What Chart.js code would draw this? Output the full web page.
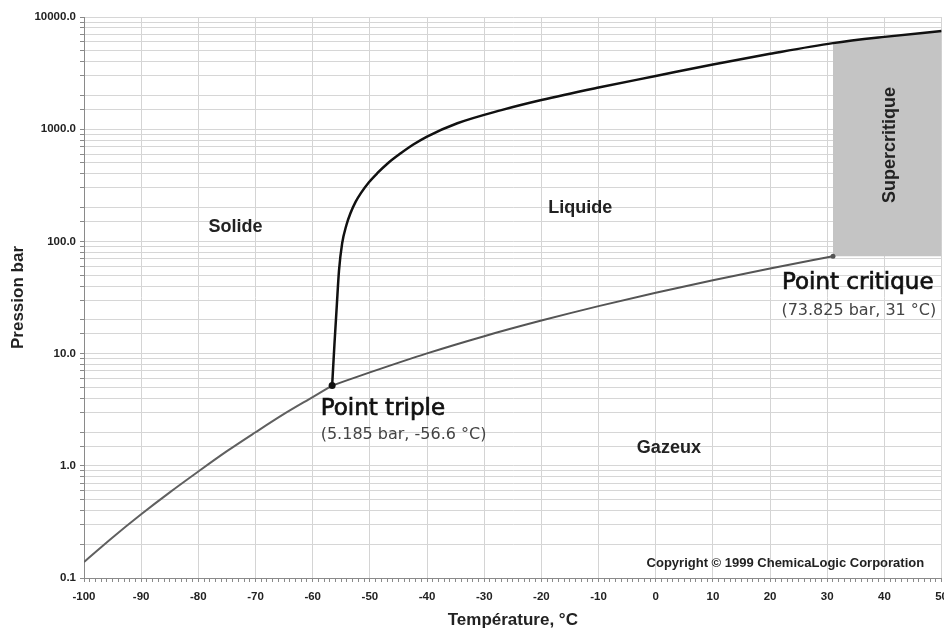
<!DOCTYPE html>
<html><head><meta charset="utf-8">
<script src="https://cdn.jsdelivr.net/npm/chart.js@4.4.1/dist/chart.umd.min.js"></script>
<style>
html,body{margin:0;padding:0;background:#fff;overflow:hidden;}
#wrap{position:relative;width:956px;height:632px;}
</style></head><body>
<div id="wrap"><canvas id="c"></canvas></div>
<script>
// ---- data (°C, bar) ----
const sublimationT = [-100, -95, -90, -85, -80, -75, -70, -65, -60, -56.6];
const sublimationP = [0.139, 0.23, 0.37, 0.58, 0.89, 1.35, 1.99, 2.9, 4.1, 5.185];

const vaporT = [-56.6, -50, -40, -30, -20, -10, 0, 10, 20, 31];
const vaporP = [5.185, 6.8, 10.05, 14.3, 19.7, 26.5, 34.85, 45.0, 57.3, 73.825];

const meltT = [-56.6, -56.2, -55.8, -55.4, -54.85, -54.1, -53.4, -52.5, -51.6, -50.2, -48.7, -46.8, -44.6, -42.4, -40, -34.7, -27, -20, -10, 0, 10, 20, 31, 40, 50];
const meltP = [5.185, 12, 26, 55, 96, 140, 178, 225, 268, 335, 405, 500, 610, 730, 860, 1130, 1480, 1820, 2350, 2980, 3780, 4700, 5850, 6650, 7500];

const tripleT = -56.6, tripleP = 5.185;
const criticalT = 31, criticalP = 73.825;

const xTickLabels = [-100, -90, -80, -70, -60, -50, -40, -30, -20, -10, 0, 10, 20, 30, 40, 50];
const yTickLabels = [0.1, 1, 10, 100, 1000, 10000];

// ---- text annotations anchored in data coordinates ----
const notes = [
  {text: 'Solide', x: -73.5, y: 122, align: 'center', font: 'bold 18px "Liberation Sans", Arial', color: '#222'},
  {text: 'Liquide', x: -13.2, y: 179, align: 'center', font: 'bold 18px "Liberation Sans", Arial', color: '#222'},
  {text: 'Gazeux', x: 2.3, y: 1.30, align: 'center', font: 'bold 18px "Liberation Sans", Arial', color: '#222'},
  {text: 'Supercritique', x: 40.9, y: 723, align: 'center', baseline: 'middle', rotate: true, font: 'bold 18px "Liberation Sans", Arial', color: '#222'},
  {text: 'Point critique', x: 22.07, y: 37.3, align: 'left', font: '23px "DejaVu Sans"', color: '#111', stroke: 0.7},
  {text: '(73.825 bar, 31 °C)', x: 21.98, y: 22.3, align: 'left', font: '16px "DejaVu Sans"', color: '#444'},
  {text: 'Point triple', x: -58.6, y: 2.84, align: 'left', font: '23px "DejaVu Sans"', color: '#111', stroke: 0.7},
  {text: '(5.185 bar, -56.6 °C)', x: -58.6, y: 1.75, align: 'left', font: '16px "DejaVu Sans"', color: '#444'},
  {text: 'Copyright © 1999 ChemicaLogic Corporation', x: -1.6, y: 0.125, align: 'left', font: 'bold 13px "Liberation Sans", Arial', color: '#222'}
];

const pts = (T, P) => T.map((t, i) => ({x: t, y: P[i]}));
const meltPts = pts(meltT, meltP);

const notesPlugin = {
  id: 'notes',
  afterDatasetsDraw(chart) {
    const {ctx, scales: {x, y}} = chart;
    ctx.save();
    notes.forEach(n => {
      const px = x.getPixelForValue(n.x), py = y.getPixelForValue(n.y);
      ctx.font = n.font;
      ctx.fillStyle = n.color;
      ctx.textAlign = n.align;
      ctx.textBaseline = n.baseline || 'alphabetic';
      ctx.save();
      ctx.translate(px, py);
      if (n.rotate) ctx.rotate(-Math.PI / 2);
      ctx.fillText(n.text, 0, 0);
      if (n.stroke) { ctx.strokeStyle = n.color; ctx.lineWidth = n.stroke; ctx.strokeText(n.text, 0, 0); }
      ctx.restore();
    });
    ctx.restore();
  }
};

const isDecade = v => Math.abs(Math.log10(v) - Math.round(Math.log10(v))) < 1e-9;
const tickFont = {family: '"Liberation Sans", Arial', weight: 'bold', size: 11.5};

new Chart(document.getElementById('c'), {
  type: 'scatter',
  data: {
    datasets: [
      {label: 'Supercritique', data: meltPts.filter(p => p.x >= criticalT), showLine: true, fill: {value: criticalP},
       backgroundColor: '#c4c4c4', borderWidth: 0, borderColor: 'rgba(0,0,0,0)', pointRadius: 0, cubicInterpolationMode: 'monotone', order: 10},
      {label: 'Sublimation', data: pts(sublimationT, sublimationP), showLine: true, borderColor: '#606060', borderWidth: 2, pointRadius: 0, cubicInterpolationMode: 'monotone', order: 3},
      {label: 'Vaporisation', data: pts(vaporT, vaporP), showLine: true, borderColor: '#555555', borderWidth: 2, pointRadius: 0, cubicInterpolationMode: 'monotone', order: 3},
      {label: 'Fusion', data: meltPts, showLine: true, borderColor: '#111111', borderWidth: 2.5, pointRadius: 0, cubicInterpolationMode: 'monotone', order: 2},
      {label: 'Point triple', data: [{x: tripleT, y: tripleP}], pointRadius: 3.5, pointBackgroundColor: '#111', pointBorderWidth: 0, order: 1},
      {label: 'Point critique', data: [{x: criticalT, y: criticalP}], pointRadius: 2.5, pointBackgroundColor: '#555', pointBorderWidth: 0, order: 1}
    ]
  },
  options: {
    responsive: true, maintainAspectRatio: false, animation: false, devicePixelRatio: 1,
    layout: {padding: {top: 17, left: 0, right: 0, bottom: 0}},
    plugins: {legend: {display: false}, tooltip: {enabled: false}},
    scales: {
      x: {
        type: 'linear', position: 'bottom', min: -100, max: 50,
        ticks: {stepSize: 1, maxTicksLimit: 500, autoSkip: false, maxRotation: 0, padding: 8, color: '#222', font: tickFont,
          callback: v => xTickLabels.includes(v) ? String(v) : ''},
        grid: {color: c => (c.tick && xTickLabels.includes(c.tick.value)) ? '#d4d4d4' : 'rgba(0,0,0,0)', tickColor: '#8a8a8a', tickLength: 4},
        border: {color: '#8a8a8a', width: 1},
        title: {display: true, text: 'Température, °C', color: '#222', font: {family: '"Liberation Sans", Arial', weight: 'bold', size: 17}, padding: {top: 0, bottom: 1}},
        afterFit: s => { s.height = 54; }
      },
      y: {
        type: 'logarithmic', min: 0.1, max: 10000,
        ticks: {autoSkip: false, padding: 4, color: '#222', font: tickFont,
          callback: v => (isDecade(v) && yTickLabels.some(t => Math.abs(t - v) < 1e-9 * Math.max(1, t))) ? Number(v).toFixed(1) : ''},
        grid: {color: '#d6d6d6', tickColor: '#8a8a8a', tickLength: 4},
        border: {color: '#8a8a8a', width: 1},
        title: {display: true, text: 'Pression bar', color: '#222', font: {family: '"Liberation Sans", Arial', weight: 'bold', size: 17}, padding: {top: 8, bottom: 0}},
        afterFit: s => { s.width = 84; }
      }
    }
  },
  plugins: [notesPlugin]
});
</script>
</body></html>
